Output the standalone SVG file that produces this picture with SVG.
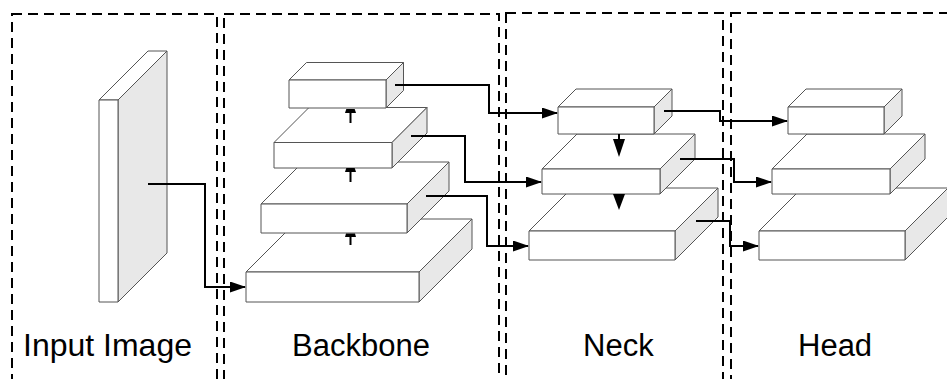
<svg xmlns="http://www.w3.org/2000/svg" width="947" height="379" viewBox="0 0 947 379">
  <style>
    .frame { fill: none; stroke: #000; stroke-width: 2; stroke-dasharray: 10 6; }
    .face { fill: #fff; stroke: #555; stroke-width: 1; stroke-linejoin: round; }
    .side { fill: #e8e8e8; stroke: #555; stroke-width: 1; stroke-linejoin: round; }
    .wire { fill: none; stroke: #000; stroke-width: 2; }
    .arrow { marker-end: url(#head); }
    .tip { fill: #000; stroke: none; }
    .label { font-family: "Liberation Sans", Arial, sans-serif; font-size: 31px; fill: #000; }
  </style>
  <defs>
    <marker id="head" viewBox="0 0 16 11" refX="15" refY="5.5" markerWidth="16" markerHeight="11" markerUnits="userSpaceOnUse" orient="auto">
      <path d="M0,0 L16,5.5 L0,11 Z" fill="#000"/>
    </marker>
  </defs>

  <!-- stage frames -->
  <g id="frames">
    <rect class="frame" x="12" y="14" width="205" height="380"/>
    <rect class="frame" x="224" y="14" width="275" height="380"/>
    <rect class="frame" x="506" y="13" width="217" height="380"/>
    <rect class="frame" x="731" y="13" width="230" height="380"/>
  </g>

  <!-- input slab -->
  <g id="input-image">
    <polygon class="face" points="99,100 148,51 167,51 118,100"/>
    <polygon class="side" points="118,100 167,51 167,253 118,302"/>
    <rect class="face" x="99" y="100" width="19" height="202"/>
  </g>

  <!-- backbone stack, drawn bottom to top -->
  <g id="backbone-4">
    <polygon class="face" points="246,272 299,219 472,219 419,272"/>
    <polygon class="side" points="419,272 472,219 472,249 419,302"/>
    <rect class="face" x="246" y="272" width="173" height="30"/>
  </g>
  <g id="backbone-3">
    <polygon class="face" points="261,204 303,162 449,162 407,204"/>
    <polygon class="side" points="407,204 449,162 449,191 407,233"/>
    <rect class="face" x="261" y="204" width="146" height="29"/>
  </g>
  <g id="backbone-2">
    <polygon class="face" points="274,142.5 309,107.5 427,107.5 392,142.5"/>
    <polygon class="side" points="392,142.5 427,107.5 427,133 392,168"/>
    <rect class="face" x="274" y="142.5" width="118" height="25.5"/>
  </g>
  <g id="backbone-1">
    <polygon class="face" points="289,80 306.5,62.5 403.5,62.5 386,80"/>
    <polygon class="side" points="386,80 403.5,62.5 403.5,90.5 386,108"/>
    <rect class="face" x="289" y="80" width="97" height="28"/>
  </g>

  <!-- neck stack -->
  <g id="neck-3">
    <polygon class="face" points="529,231 572,188 718,188 675,231"/>
    <polygon class="side" points="675,231 718,188 718,217 675,260"/>
    <rect class="face" x="529" y="231" width="146" height="29"/>
  </g>
  <g id="neck-2">
    <polygon class="face" points="542,169 577,134 695,134 660,169"/>
    <polygon class="side" points="660,169 695,134 695,159 660,194"/>
    <rect class="face" x="542" y="169" width="118" height="25"/>
  </g>
  <g id="neck-1">
    <polygon class="face" points="558,107 576,89 672,89 654,107"/>
    <polygon class="side" points="654,107 672,89 672,116 654,134"/>
    <rect class="face" x="558" y="107" width="96" height="27"/>
  </g>

  <!-- head stack -->
  <g id="head-3" transform="translate(230,0)">
    <polygon class="face" points="529,231 572,188 718,188 675,231"/>
    <polygon class="side" points="675,231 718,188 718,217 675,260"/>
    <rect class="face" x="529" y="231" width="146" height="29"/>
  </g>
  <g id="head-2" transform="translate(230,0)">
    <polygon class="face" points="542,169 577,134 695,134 660,169"/>
    <polygon class="side" points="660,169 695,134 695,159 660,194"/>
    <rect class="face" x="542" y="169" width="118" height="25"/>
  </g>
  <g id="head-1" transform="translate(230,0)">
    <polygon class="face" points="558,107 576,89 672,89 654,107"/>
    <polygon class="side" points="654,107 672,89 672,116 654,134"/>
    <rect class="face" x="558" y="107" width="96" height="27"/>
  </g>

  <!-- connectors -->
  <g id="connectors">
    <path class="wire arrow" d="M148,184 H205 V287 H245"/>

    <!-- bottom-up path inside the backbone -->
    <path class="wire" d="M350.5,123 V112"/>
    <polygon class="tip" points="345,113 356,113 354.7,109 346.3,109"/>
    <path class="wire" d="M350.5,182 V171"/>
    <polygon class="tip" points="345,172 356,172 354.7,168 346.3,168"/>
    <path class="wire" d="M350.5,245 V236"/>
    <polygon class="tip" points="345,237 356,237 355,233.5 346,233.5"/>

    <!-- backbone to neck -->
    <path class="wire arrow" d="M395,85 H489 V113 H557"/>
    <path class="wire arrow" d="M411,136 H465 V182 H541"/>
    <path class="wire arrow" d="M426,196 H487 V246 H528"/>

    <!-- top-down path inside the neck -->
    <path class="wire" d="M619,134 V141"/>
    <polygon class="tip" points="613,139 625,139 619,157"/>
    <polygon class="tip" points="613,194 625,194 619,210"/>

    <!-- neck to head -->
    <path class="wire arrow" d="M664,111 H720 V121 H787"/>
    <path class="wire arrow" d="M680,159 H734 V182 H771"/>
    <path class="wire arrow" d="M696,221 H730 V246 H758"/>
  </g>

  <!-- stage labels -->
  <g id="labels">
    <text class="label" x="23" y="356" style="font-size:32px">Input Image</text>
    <text class="label" x="292" y="356">Backbone</text>
    <text class="label" x="583" y="356">Neck</text>
    <text class="label" x="798" y="356">Head</text>
  </g>
</svg>
